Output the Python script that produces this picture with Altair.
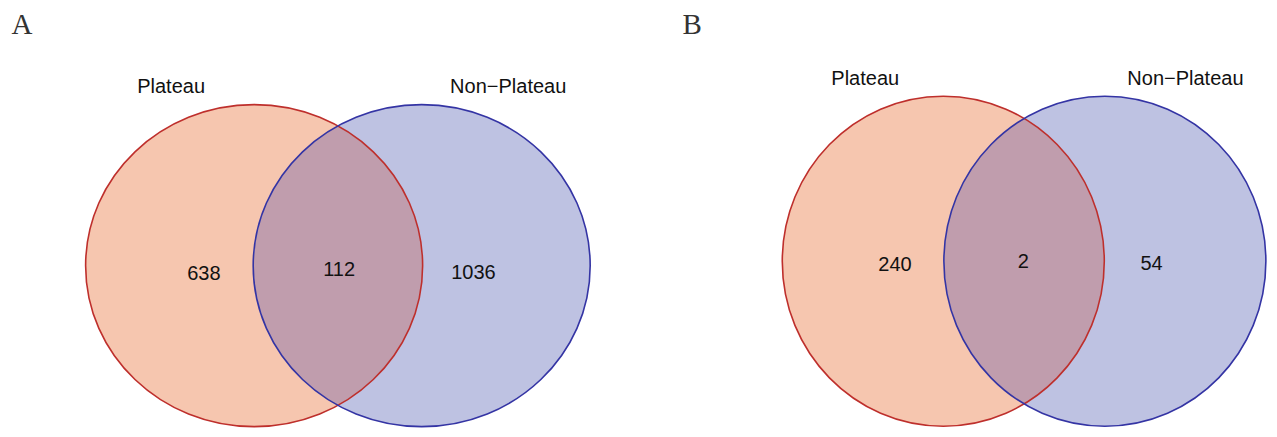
import math
import altair as alt
import pandas as pd

# ---------------- data ----------------
panel_letters = ["A", "B"]
set_names = ["Plateau", "Non\u2212Plateau"]
only_left = [638, 240]
shared = [112, 2]
only_right = [1036, 54]

# ---------------- layout (page pixels) ----------------
W, H = 1261, 421
X0, Y0 = 8, 8
circle_cx = {"A": (255.5, 424.0), "B": (948.5, 1111.0)}
circle_cy = {"A": 267.5, "B": 263.0}
circle_rx = {"A": 168.5, "B": 161.0}
circle_ry = {"A": 161.0, "B": 165.0}
letter_pos = {"A": (22, 34), "B": (696, 34)}
name_pos = {"A": [(172, 94), (511, 94)], "B": [(870, 86), (1192, 86)]}
count_pos = {"A": [(205, 282), (341, 278), (476, 281)],
             "B": [(900, 273), (1029, 270), (1158, 272)]}

LEFT_FILL = "#F6C6AF"
RIGHT_FILL = "#BEC2E2"
BOTH_FILL = "#C09DAD"
LEFT_STROKE = "#BE2F2C"
RIGHT_STROKE = "#3434A4"

xs = alt.Scale(domain=[X0, X0 + W], nice=False, zero=False)
ys = alt.Scale(domain=[Y0, Y0 + H], nice=False, zero=False, reverse=True)


def enc(chart):
    return chart.encode(
        x=alt.X("x:Q", scale=xs, axis=None),
        y=alt.Y("y:Q", scale=ys, axis=None),
    )


def ellipse_path(rx, ry):
    k = ry / rx
    return f"M -1 0 A 1 {k:.5f} 0 1 1 1 0 A 1 {k:.5f} 0 1 1 -1 0 Z"


def lens_path(rx, ry, h):
    u = ry * math.sqrt(1 - (h / rx) ** 2)
    a, b = rx / u, ry / u
    return f"M 0 -1 A {a:.5f} {b:.5f} 0 0 1 0 1 A {a:.5f} {b:.5f} 0 0 1 0 -1 Z", u


fills, strokes, lenses = [], [], []
for p in panel_letters:
    cxl, cxr = circle_cx[p]
    cy = circle_cy[p]
    rx, ry = circle_rx[p], circle_ry[p]
    shp = ellipse_path(rx, ry)
    size = (2 * rx) ** 2
    for cx, fc, sc in [(cxl, LEFT_FILL, LEFT_STROKE), (cxr, RIGHT_FILL, RIGHT_STROKE)]:
        d = pd.DataFrame({"x": [cx], "y": [cy]})
        fills.append(enc(alt.Chart(d).mark_point(
            shape=shp, size=size, filled=True, fill=fc, opacity=1, strokeWidth=0)))
        strokes.append(enc(alt.Chart(d).mark_point(
            shape=shp, size=size, filled=False, stroke=sc, strokeWidth=1.6, opacity=1)))
    lp, u = lens_path(rx, ry, (cxr - cxl) / 2)
    d = pd.DataFrame({"x": [(cxl + cxr) / 2], "y": [cy]})
    lenses.append(enc(alt.Chart(d).mark_point(
        shape=lp, size=(2 * u) ** 2, filled=True, fill=BOTH_FILL, opacity=1, strokeWidth=0)))

# texts
letters_df = pd.DataFrame({
    "x": [letter_pos[p][0] for p in panel_letters],
    "y": [letter_pos[p][1] for p in panel_letters],
    "t": panel_letters,
})
names_rows = []
counts_rows = []
for i, p in enumerate(panel_letters):
    for j, nm in enumerate(set_names):
        names_rows.append({"x": name_pos[p][j][0], "y": name_pos[p][j][1], "t": nm})
    vals = [only_left[i], shared[i], only_right[i]]
    for j, v in enumerate(vals):
        counts_rows.append({"x": count_pos[p][j][0], "y": count_pos[p][j][1], "t": str(v)})

letters = enc(alt.Chart(letters_df).mark_text(
    font="Liberation Serif", fontSize=29, color="#333333", align="center",
    baseline="alphabetic")).encode(text="t:N")
names = enc(alt.Chart(pd.DataFrame(names_rows)).mark_text(
    font="Liberation Sans", fontSize=20, color="#111111", align="center",
    baseline="alphabetic")).encode(text="t:N")
counts = enc(alt.Chart(pd.DataFrame(counts_rows)).mark_text(
    font="Liberation Sans", fontSize=20, color="#111111", align="center",
    baseline="alphabetic")).encode(text="t:N")

chart = alt.layer(*fills, *lenses, *strokes, letters, names, counts).properties(
    width=W, height=H, padding=0,
    autosize=alt.AutoSizeParams(type="fit", contains="padding"),
    background="white",
).configure_view(stroke=None)

chart.save("out.html", embed_options={"renderer": "svg", "actions": False})
